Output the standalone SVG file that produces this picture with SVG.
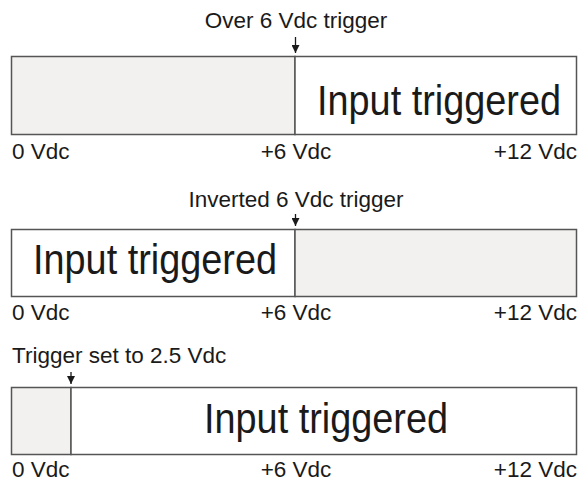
<svg xmlns="http://www.w3.org/2000/svg" width="581" height="483" viewBox="0 0 581 483">
<style>
  .bar { stroke: #555; stroke-width: 1.5; }
  .off { fill: #f2f1ef; }
  .on { fill: #ffffff; }
  text { font-family: 'Liberation Sans', Arimo, Arial, Helvetica, sans-serif; fill: #1a1a1a; }
  .s { font-size: 22.5px; }
  .big { font-size: 42px; }
  .arr { stroke: #1a1a1a; stroke-width: 1.3; }
</style>
<defs>
  <marker id="ah" viewBox="0 0 8 8" refX="8" refY="4" markerWidth="8" markerHeight="8" markerUnits="userSpaceOnUse" orient="auto">
    <path d="M0,0 L8,4 L0,8 Z" fill="#1a1a1a"/>
  </marker>
</defs>
<rect width="581" height="483" fill="#ffffff"/>

<g id="bar1">
  <rect class="bar off" x="11.5" y="56.5" width="283.5" height="78"/>
  <rect class="bar on" x="295" y="56.5" width="281.5" height="78"/>
  <text class="big" x="439" y="115" text-anchor="middle" textLength="244" lengthAdjust="spacingAndGlyphs">Input triggered</text>
  <text class="s" x="296" y="28" text-anchor="middle">Over 6 Vdc trigger</text>
  <text class="s" x="12" y="159">0 Vdc</text>
  <text class="s" x="296" y="159" text-anchor="middle">+6 Vdc</text>
  <text class="s" x="577" y="159" text-anchor="end">+12 Vdc</text>
</g>

<g id="bar2">
  <rect class="bar on" x="11.5" y="229.5" width="283.5" height="67"/>
  <rect class="bar off" x="295" y="229.5" width="281.5" height="67"/>
  <text class="big" x="155" y="274" text-anchor="middle" textLength="244" lengthAdjust="spacingAndGlyphs">Input triggered</text>
  <text class="s" x="296" y="207" text-anchor="middle">Inverted 6 Vdc trigger</text>
  <text class="s" x="12" y="320">0 Vdc</text>
  <text class="s" x="296" y="320" text-anchor="middle">+6 Vdc</text>
  <text class="s" x="577" y="320" text-anchor="end">+12 Vdc</text>
</g>

<g id="bar3">
  <rect class="bar off" x="11.5" y="387.5" width="59.5" height="67"/>
  <rect class="bar on" x="71" y="387.5" width="505.5" height="67"/>
  <text class="big" x="326" y="433" text-anchor="middle" textLength="244" lengthAdjust="spacingAndGlyphs">Input triggered</text>
  <text class="s" x="12" y="363">Trigger set to 2.5 Vdc</text>
  <text class="s" x="12" y="477">0 Vdc</text>
  <text class="s" x="296" y="477" text-anchor="middle">+6 Vdc</text>
  <text class="s" x="577" y="477" text-anchor="end">+12 Vdc</text>
</g>

<g id="connectors">
  <line class="arr" x1="295.5" y1="37" x2="295.5" y2="53" marker-end="url(#ah)"/>
  <line class="arr" x1="295.5" y1="214" x2="295.5" y2="226" marker-end="url(#ah)"/>
  <line class="arr" x1="71" y1="372" x2="71" y2="384" marker-end="url(#ah)"/>
</g>
</svg>
